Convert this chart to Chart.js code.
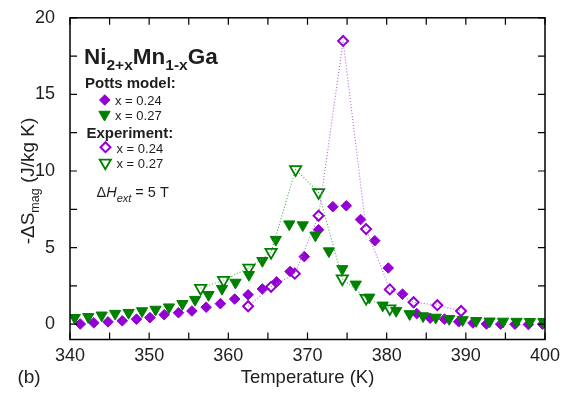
<!DOCTYPE html>
<html><head><meta charset="utf-8">
<script src="https://cdn.jsdelivr.net/npm/chart.js@4"></script>
<style>html,body{margin:0;padding:0;background:#fff}canvas{display:block}</style>
</head><body>
<canvas id="c" width="577" height="393"></canvas>
<script>
// ---- data ----
const pottsTemp024 = [341.3,343.0,344.8,346.6,348.4,350.1,351.9,353.7,355.4,357.2,359.0,360.8,362.5,364.3,366.1,367.8,369.6,371.4,373.2,374.9,376.7,378.5,380.2,382.0,383.8,385.5,387.3,389.1,390.9,392.6,394.4,396.2,397.9,399.7];
const pottsDS024   = [0.01,0.09,0.15,0.22,0.33,0.43,0.62,0.75,0.86,1.11,1.34,1.64,1.92,2.30,2.76,3.44,4.41,6.16,7.67,7.73,6.83,5.45,3.67,1.96,0.69,0.39,0.33,0.16,0.08,0.01,0.0,0.0,-0.02,0.0];
const pottsTemp027 = [340.6,342.3,344.0,345.7,347.4,349.1,350.8,352.5,354.2,355.8,357.5,359.2,360.9,362.6,364.3,366.0,367.7,369.4,371.0,372.7,374.4,376.1,377.8,379.5,381.2,382.9,384.6,386.2,387.9,389.6,391.3,393.0,394.7,396.4,398.1,399.8];
const pottsDS027   = [0.42,0.48,0.58,0.69,0.75,0.86,0.96,1.11,1.33,1.60,1.92,2.32,2.72,3.23,4.14,5.52,6.53,6.47,5.80,4.77,3.61,2.60,1.75,1.23,0.88,0.67,0.53,0.44,0.35,0.28,0.22,0.19,0.18,0.17,0.16,0.16];
const expTemp024 = [362.5,365.4,368.4,371.4,374.5,377.4,380.4,383.4,386.4,389.4];
const expDS024   = [1.17,2.44,3.30,7.08,18.49,6.21,2.27,1.43,1.24,0.86];
const expTemp027 = [356.5,359.4,362.6,365.4,368.5,371.4,374.4,377.4,380.4];
const expDS027   = [2.35,2.87,3.68,4.70,10.1,8.6,2.97,1.70,1.02];
const xTickLabels = [340,350,360,370,380,390,400];
const yTickLabels = [0,5,10,15,20];

// ---- styles ----
const FONT = "'Liberation Sans', Arial, Helvetica, sans-serif";
const PURPLE = '#9400d3', GREEN = '#008000';
const PURPLE_LINE = '#b262ea', GREEN_LINE = '#45ad45';
const TXT = '#1e1e1e';

const toXY = (xs, ys) => xs.map((x, i) => ({x, y: ys[i]}));

function rich(ctx, x, y, parts) {
  let cx = x;
  for (const [t, f, dy] of parts) {
    ctx.font = f; ctx.fillText(t, cx, y + (dy || 0));
    cx += ctx.measureText(t).width;
  }
  return cx - x;
}
function richWidth(ctx, parts) {
  let w = 0;
  for (const [t, f] of parts) { ctx.font = f; w += ctx.measureText(t).width; }
  return w;
}
function diamond(ctx, cx, cy, r, filled, color, bw) {
  ctx.beginPath();
  ctx.moveTo(cx, cy - r); ctx.lineTo(cx + r, cy); ctx.lineTo(cx, cy + r); ctx.lineTo(cx - r, cy); ctx.closePath();
  if (filled) { ctx.fillStyle = color; ctx.fill(); }
  ctx.strokeStyle = color; ctx.lineWidth = bw; ctx.stroke();
}
function triDown(ctx, cx, cy, r, filled, color, bw) {
  const s = Math.sin(Math.PI / 3) * r;
  ctx.beginPath();
  ctx.moveTo(cx, cy + r); ctx.lineTo(cx - s, cy - r / 2); ctx.lineTo(cx + s, cy - r / 2); ctx.closePath();
  if (filled) { ctx.fillStyle = color; ctx.fill(); }
  ctx.strokeStyle = color; ctx.lineWidth = bw; ctx.stroke();
}

const deco = {
  id: 'deco',
  afterDraw(chart) {
    const {ctx, chartArea: a} = chart;
    const xs = chart.scales.x, ys = chart.scales.y;
    ctx.save();
    // frame
    ctx.strokeStyle = '#000'; ctx.lineWidth = 1.5;
    ctx.strokeRect(a.left, a.top, a.right - a.left, a.bottom - a.top);
    // inward ticks on all four sides
    ctx.lineWidth = 1.2;
    const L = 7;
    ctx.beginPath();
    for (let v = xs.min; v <= xs.max + 1e-9; v += 5) {
      const px = xs.getPixelForValue(v);
      ctx.moveTo(px, a.bottom); ctx.lineTo(px, a.bottom - L);
      ctx.moveTo(px, a.top); ctx.lineTo(px, a.top + L);
    }
    for (let v = 0; v <= ys.max + 1e-9; v += 2.5) {
      const py = ys.getPixelForValue(v);
      ctx.moveTo(a.left, py); ctx.lineTo(a.left + L, py);
      ctx.moveTo(a.right, py); ctx.lineTo(a.right - L, py);
    }
    ctx.stroke();

    ctx.fillStyle = TXT;
    ctx.textBaseline = 'alphabetic';
    ctx.textAlign = 'left';

    // x title
    ctx.font = `18.5px ${FONT}`;
    ctx.textAlign = 'center';
    ctx.fillText('Temperature (K)', (a.left + a.right) / 2, 383);
    ctx.font = `19px ${FONT}`;
    ctx.fillText('(b)', 29, 383);
    ctx.textAlign = 'left';

    // y title (rotated)
    const yParts = [['-\u0394S', `19px ${FONT}`, 0], ['mag', `12.5px ${FONT}`, 5], [' (J/kg K)', `19px ${FONT}`, 0]];
    ctx.save();
    ctx.translate(34, 181);
    ctx.rotate(-Math.PI / 2);
    const yw = richWidth(ctx, yParts);
    rich(ctx, -yw / 2, 0, yParts);
    ctx.restore();

    // compound title
    const B = `bold 22.5px ${FONT}`, Bs = `bold 15.5px ${FONT}`;
    rich(ctx, 84, 63.5, [['Ni', B, 0], ['2+x', Bs, 6.5], ['Mn', B, 0], ['1-x', Bs, 6.5], ['Ga', B, 0]]);

    // legend
    ctx.font = `bold 15px ${FONT}`;
    ctx.fillText('Potts model:', 85, 88);
    ctx.fillText('Experiment:', 86.5, 138);
    ctx.font = `13px ${FONT}`;
    ctx.fillText('x = 0.24', 115, 104.5);
    ctx.fillText('x = 0.27', 115, 119.5);
    ctx.fillText('x = 0.24', 116.5, 153);
    ctx.fillText('x = 0.27', 116.5, 167.5);
    diamond(ctx, 104.8, 100, 5.3, true, PURPLE, 1);
    triDown(ctx, 104.5, 114.5, 6.5, true, GREEN, 1);
    diamond(ctx, 105.5, 147.2, 5, false, PURPLE, 2);
    triDown(ctx, 105.3, 162.8, 6.5, false, GREEN, 1.8);

    // field annotation
    ctx.fillStyle = TXT;
    rich(ctx, 96.5, 197, [['\u0394', `14.5px ${FONT}`, 0], ['H', `italic 14.5px ${FONT}`, 0], ['ext', `italic 11px ${FONT}`, 5], [' = 5 T', `14.5px ${FONT}`, 0]]);
    ctx.restore();
  }
};

new Chart(document.getElementById('c'), {
  type: 'scatter',
  data: {
    datasets: [
      { label: 'Experiment x = 0.24', data: toXY(expTemp024, expDS024), order: 0,
        showLine: true, borderColor: PURPLE_LINE, borderWidth: 1.1, borderDash: [1, 2],
        pointStyle: 'rectRot', pointRadius: 5, pointBorderWidth: 2,
        pointBorderColor: PURPLE, pointBackgroundColor: 'rgba(255,255,255,0)', backgroundColor: 'rgba(0,0,0,0)' },
      { label: 'Experiment x = 0.27', data: toXY(expTemp027, expDS027), order: 1,
        showLine: true, borderColor: GREEN_LINE, borderWidth: 1.1, borderDash: [1, 2],
        pointStyle: 'triangle', pointRotation: 180, pointRadius: 6.5, pointBorderWidth: 1.8,
        pointBorderColor: GREEN, pointBackgroundColor: 'rgba(255,255,255,0)', backgroundColor: 'rgba(0,0,0,0)' },
      { label: 'Potts x = 0.27', data: toXY(pottsTemp027, pottsDS027), order: 2,
        showLine: false, pointStyle: 'triangle', pointRotation: 180, pointRadius: 6.5, pointBorderWidth: 1,
        pointBorderColor: GREEN, pointBackgroundColor: GREEN },
      { label: 'Potts x = 0.24', data: toXY(pottsTemp024, pottsDS024), order: 3,
        showLine: false, pointStyle: 'rectRot', pointRadius: 5.3, pointBorderWidth: 1,
        pointBorderColor: PURPLE, pointBackgroundColor: PURPLE }
    ]
  },
  options: {
    responsive: false, animation: false, devicePixelRatio: 1,
    layout: { padding: { top: 8.5, right: 32, left: 0, bottom: 0 } },
    plugins: { legend: { display: false }, tooltip: { enabled: false }, title: { display: false } },
    elements: { point: { hoverRadius: 5 } },
    scales: {
      x: {
        type: 'linear', min: 340, max: 400,
        grid: { display: false }, border: { display: false },
        ticks: { font: { family: FONT, size: 18 }, color: TXT, padding: -2, maxRotation: 0, autoSkip: false },
        afterBuildTicks: s => { s.ticks = xTickLabels.map(v => ({value: v})); },
        afterFit: s => { s.height = 393 - 339.5; }
      },
      y: {
        type: 'linear', min: -1, max: 20,
        grid: { display: false }, border: { display: false },
        ticks: { font: { family: FONT, size: 18 }, color: TXT, padding: 7, autoSkip: false },
        afterBuildTicks: s => { s.ticks = yTickLabels.map(v => ({value: v})); },
        afterFit: s => { s.width = 70; }
      }
    }
  },
  plugins: [deco]
});
</script>
</body></html>
